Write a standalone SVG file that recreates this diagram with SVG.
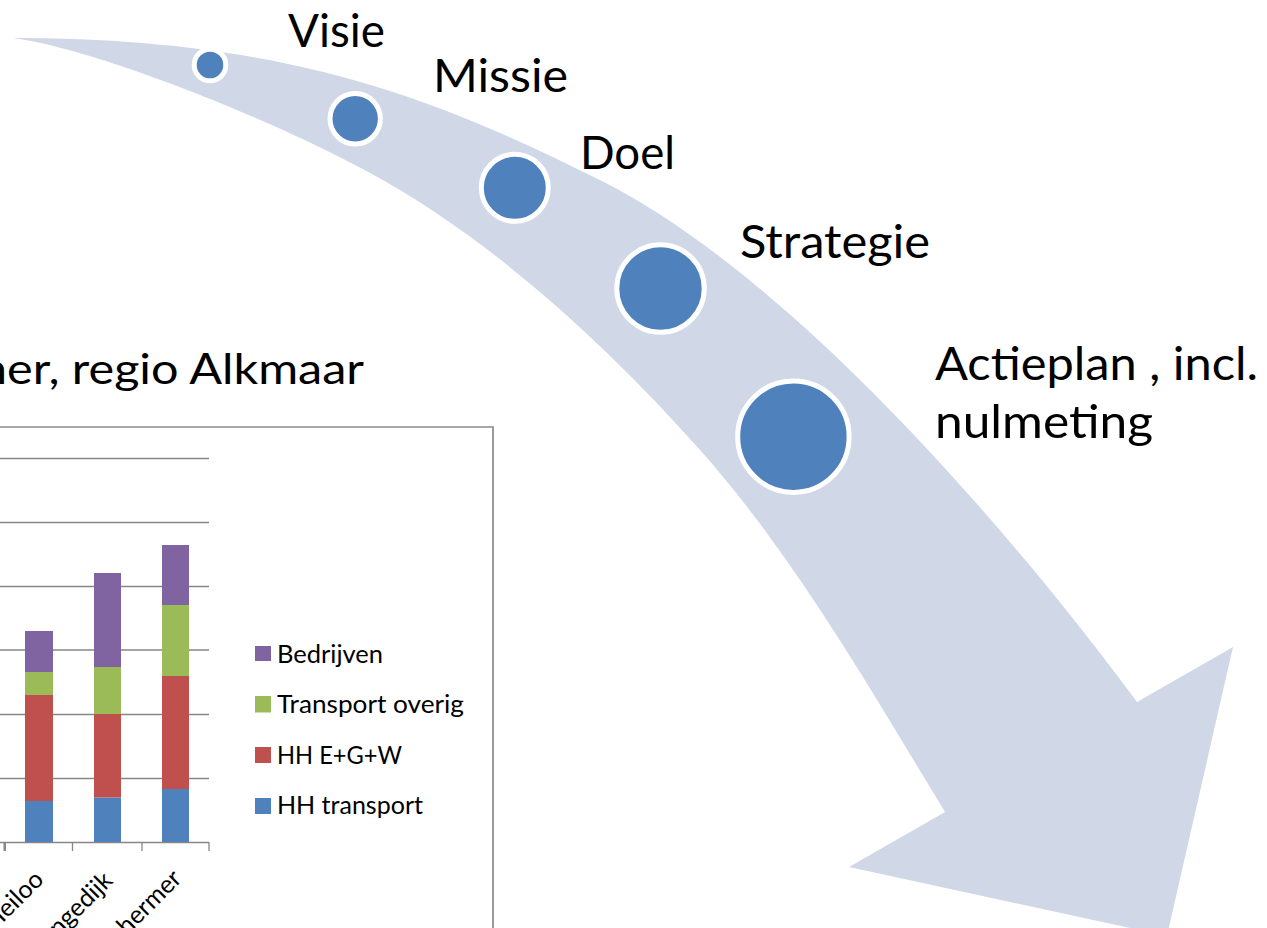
<svg xmlns="http://www.w3.org/2000/svg" width="1267" height="928" viewBox="0 0 1267 928">
<style>
.lbl{font-family:Lato,"Liberation Sans",sans-serif;font-size:46.5px;fill:#000}
.leg{font-family:Lato,"Liberation Sans",sans-serif;font-size:24.5px;fill:#000}
.ax{font-family:Lato,"Liberation Sans",sans-serif;font-size:25px;fill:#000}
.dot{fill:#4F81BD;stroke:#fff;stroke-width:5}
.grid{stroke:#878787;stroke-width:1.3;fill:none}
.b{fill:#4F81BD}.r{fill:#C0504D}.g{fill:#9BBB59}.p{fill:#8064A2}
</style>
<rect x="0" y="0" width="1267" height="928" fill="#fff"/>
<g id="chart">
<text class="lbl" x="-20" y="384" textLength="384" lengthAdjust="spacingAndGlyphs" style="font-size:43px">ner, regio Alkmaar</text>
<path d="M-5,427 H493 V935" fill="none" stroke="#8a8a8a" stroke-width="1.7"/>
<g class="grid">
<path d="M0,458.5H209M0,522.5H209M0,586.5H209M0,650H209M0,714.5H209M0,778.5H209M0,842.5H209"/>
<path d="M5,842V851M72.5,842V851M142,842V851M209,842V851"/>
</g>
<rect x="3.5" y="842" width="2.5" height="9" fill="#878787"/>
<rect class="b" x="25" y="801" width="28" height="41"/>
<rect class="r" x="25" y="695" width="28" height="106"/>
<rect class="g" x="25" y="672" width="28" height="23"/>
<rect class="p" x="25" y="631" width="28" height="41"/>
<rect class="b" x="94" y="797.5" width="27" height="44.5"/>
<rect class="r" x="94" y="714" width="27" height="83.5"/>
<rect class="g" x="94" y="667" width="27" height="47"/>
<rect class="p" x="94" y="573" width="27" height="94"/>
<rect class="b" x="162" y="789" width="27" height="53"/>
<rect class="r" x="162" y="676" width="27" height="113"/>
<rect class="g" x="162" y="605" width="27" height="71"/>
<rect class="p" x="162" y="545" width="27" height="60"/>
<rect class="p" x="255" y="646" width="16" height="15"/>
<rect class="g" x="255" y="696" width="16" height="16.5"/>
<rect class="r" x="255" y="747" width="16" height="16"/>
<rect class="b" x="255" y="798" width="16" height="16"/>
<text class="leg" x="277" y="662.5" textLength="106" lengthAdjust="spacingAndGlyphs">Bedrijven</text>
<text class="leg" x="277" y="713" textLength="187" lengthAdjust="spacingAndGlyphs">Transport overig</text>
<text class="leg" x="277" y="763.5" textLength="125" lengthAdjust="spacingAndGlyphs">HH E+G+W</text>
<text class="leg" x="277" y="814" textLength="146" lengthAdjust="spacingAndGlyphs">HH transport</text>
<text class="ax" x="45" y="881" text-anchor="end" transform="rotate(-45 45 881)">Heiloo</text>
<text class="ax" x="114" y="882" text-anchor="end" transform="rotate(-45 114 882)">Langedijk</text>
<text class="ax" x="183" y="880" text-anchor="end" transform="rotate(-45 183 880)">Schermer</text>
</g>
<g id="connectors">
<path id="arrow" fill="#D0D8E8" d="M13,38 C280,38 430,95 600,180 C790,275 1010,530 1137,702 L1233,647 L1167,936 L849,867 L945,812 C870,689 795,557 700,450 C614,353 511,257 400,190 C300,130 103,50 13,38 Z"/>
</g>
<g id="node-visie">
<circle class="dot" cx="210" cy="65" r="15.8"/>
<text class="lbl" x="288" y="47" textLength="97" lengthAdjust="spacingAndGlyphs">Visie</text>
</g>
<g id="node-missie">
<circle class="dot" cx="355.2" cy="118.8" r="25.2"/>
<text class="lbl" x="433" y="92" textLength="135" lengthAdjust="spacingAndGlyphs">Missie</text>
</g>
<g id="node-doel">
<circle class="dot" cx="514.8" cy="187.8" r="33.5"/>
<text class="lbl" x="580" y="169" textLength="95" lengthAdjust="spacingAndGlyphs">Doel</text>
</g>
<g id="node-strategie">
<circle class="dot" cx="660.5" cy="288.5" r="43.7"/>
<text class="lbl" x="740" y="258" textLength="190" lengthAdjust="spacingAndGlyphs">Strategie</text>
</g>
<g id="node-actieplan">
<circle class="dot" cx="793.4" cy="436.7" r="55.7"/>
<text class="lbl" x="935" y="380" textLength="323" lengthAdjust="spacingAndGlyphs">Actieplan , incl.</text>
<text class="lbl" x="935" y="438" textLength="218" lengthAdjust="spacingAndGlyphs">nulmeting</text>
</g>
</svg>
